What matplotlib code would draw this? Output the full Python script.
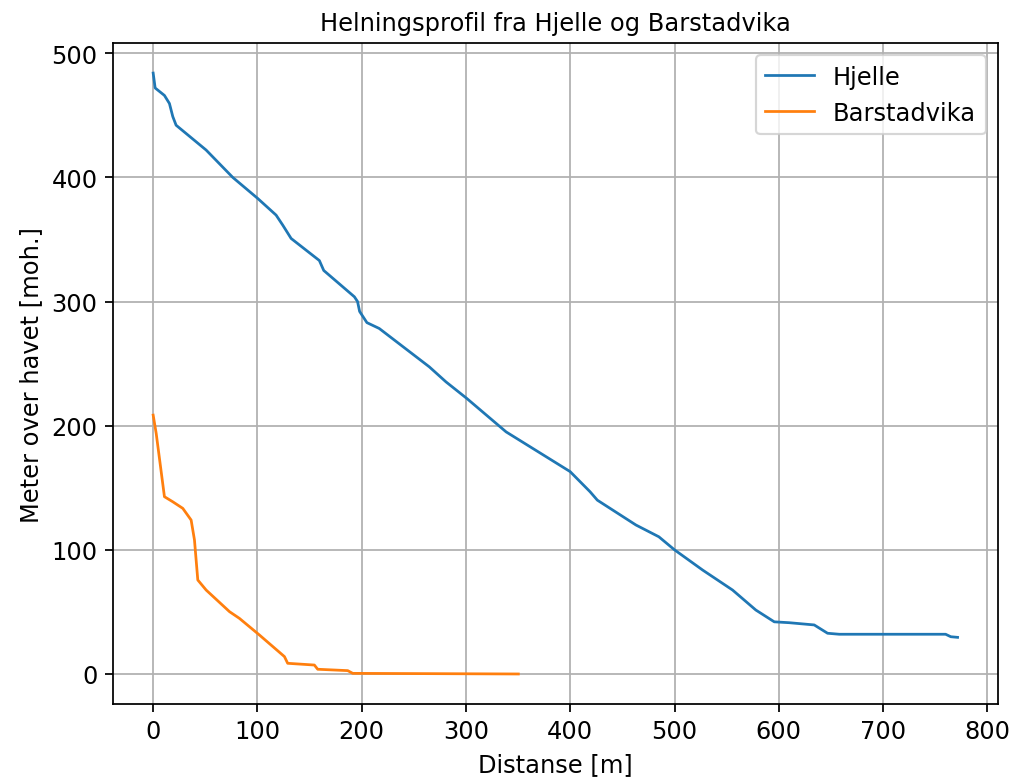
import numpy as np
import matplotlib.pyplot as plt

# Hjelle profile (distance [m], height [moh.])
hjelle_x = [0, 1.9, 10.8, 15.6, 18.8, 22, 50.8, 76.3, 100.3, 117.9, 124.3, 132.3,
            159.4, 163.6, 193, 196, 198, 205, 216.8, 264.8, 280.8, 300.7, 338.5,
            399.9, 419, 426, 463, 485, 500, 527, 555.7, 578, 595.7, 610, 634,
            646.8, 658, 760, 765, 771.5]
hjelle_y = [484, 472, 466, 459.5, 449, 442, 422, 400, 383, 369.6, 361.5, 350.8,
            333, 325, 303.8, 300, 292, 283, 278.3, 247.4, 235.3, 222, 195,
            163, 146.8, 140, 120, 110.5, 100, 83.7, 67.6, 51.5, 42, 41.3, 39.5,
            32.8, 32, 32, 30, 29.5]

# Barstadvika profile
barstad_x = [0, 2.9, 10.8, 18.8, 28.4, 36.4, 39.6, 42.8, 50.8, 73.2, 82.7, 101.9,
             125.9, 129, 154.6, 157.8, 186.6, 191.4, 350.2]
barstad_y = [208.5, 193.8, 142.8, 138.7, 133.4, 124, 108, 75.7, 67.6, 50.2, 44.8,
             31.4, 14, 8.6, 7.2, 3.8, 2.7, 0.5, 0]

plt.rcParams['font.size'] = 11

fig, ax = plt.subplots(figsize=(1013 / 158, 778 / 158), dpi=158)
fig.subplots_adjust(left=0.1115, right=0.985, top=0.9434, bottom=0.0938)

ax.plot(hjelle_x, hjelle_y, lw=1.25, label="Hjelle")
ax.plot(barstad_x, barstad_y, lw=1.25, label="Barstadvika")
ax.set_title("Helningsprofil fra Hjelle og Barstadvika", fontsize=11)
ax.set_xlabel("Distanse [m]")
ax.set_ylabel("Meter over havet [moh.]")
ax.grid(True)
ax.legend(loc="upper right")

fig.savefig("out.png", dpi=158)
